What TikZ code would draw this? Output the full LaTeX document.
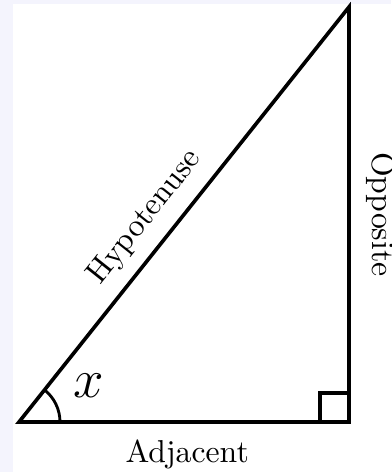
\documentclass[tikz,border=0pt]{standalone}
\usepackage{tikz}
\usetikzlibrary{calc,angles}
\definecolor{pageTint}{RGB}{244,244,253}

\begin{document}
\begin{tikzpicture}[
                x=0.3155pt, y=0.3155pt,
                side/.style={line width=1.15pt, line join=miter},
                sidelabel/.style={font=\normalsize, inner sep=3.33pt}
            ]
                % page and the white sheet
                \fill[pageTint] (0,0) rectangle (391,472);
                \fill[white] (13,0) rectangle (391,468);
                \useasboundingbox (0,0) rectangle (391,472);

                \coordinate (A) at (19,50);
                \coordinate (B) at (349,50);
                \coordinate (C) at (349,465);

                \draw[side] (A) -- (B)
                    node[sidelabel, midway, below=1.8pt, xshift=1pt] (adj) {Adjacent}
                    -- (C) -- cycle;

                % labels on the other two sides
                \path (A) -- (C) node[sidelabel, pos=0.45, above=1pt, sloped] (hyp) {Hypotenuse};
                \node[sidelabel, rotate=-90, anchor=south] (opp) at ($(B)!0.5!(C)+(6,0)$) {Opposite};

                % angle mark and right angle
                \draw[side, line width=0.9pt] ($(A)+(41,0)$) arc[start angle=0, end angle=51.5, radius=41];
                \node[font=\LARGE] (ang) at (89,86) {$x$};
                \draw[side] ($(B)+(-29,0)$) |- ($(B)+(0,29)$);
            \end{tikzpicture}
\end{document}
